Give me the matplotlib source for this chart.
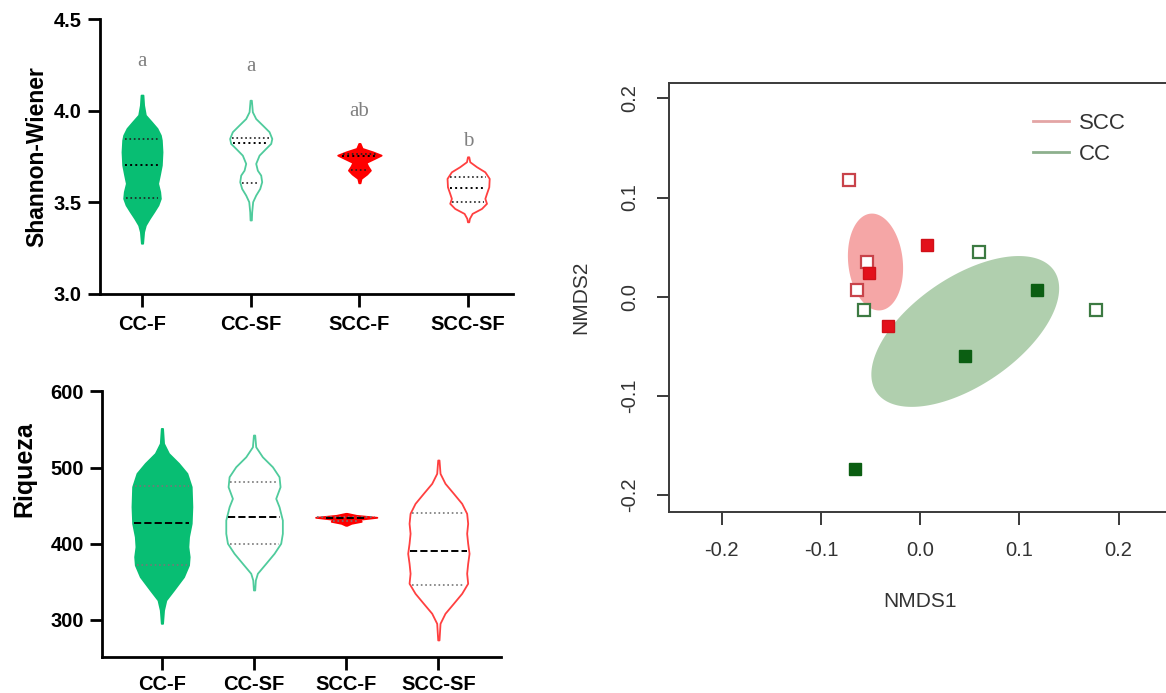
import numpy as np
import matplotlib
matplotlib.use("Agg")
import matplotlib.pyplot as plt
from matplotlib.lines import Line2D

plt.rcParams['font.family'] = ['Liberation Sans', 'DejaVu Sans']

groups = ['CC-F', 'CC-SF', 'SCC-F', 'SCC-SF']

# ---- Shannon-Wiener violins: level (top -> bottom) and half width (category units)
sh_levels = [
    [4.086, 4.031, 3.977, 3.940, 3.904, 3.867, 3.840, 3.776, 3.704, 3.649,
     3.604, 3.558, 3.522, 3.486, 3.449, 3.413, 3.376, 3.340, 3.277],
    [4.058, 3.995, 3.958, 3.922, 3.886, 3.849, 3.822, 3.795, 3.758, 3.713,
     3.676, 3.649, 3.613, 3.576, 3.540, 3.504, 3.449, 3.404],
    [3.822, 3.795, 3.776, 3.758, 3.740, 3.718, 3.698, 3.676, 3.655, 3.631, 3.607],
    [3.749, 3.722, 3.695, 3.667, 3.631, 3.585, 3.549, 3.522, 3.495, 3.467,
     3.440, 3.413, 3.394],
]
sh_width = [
    [0.009, 0.015, 0.031, 0.086, 0.138, 0.169, 0.178, 0.184, 0.178, 0.160,
     0.144, 0.163, 0.169, 0.147, 0.108, 0.068, 0.031, 0.015, 0.006],
    [0.006, 0.015, 0.046, 0.108, 0.169, 0.194, 0.184, 0.138, 0.077, 0.046,
     0.061, 0.092, 0.101, 0.083, 0.046, 0.018, 0.009, 0.006],
    [0.006, 0.025, 0.123, 0.200, 0.138, 0.061, 0.077, 0.101, 0.068, 0.015, 0.006],
    [0.006, 0.015, 0.077, 0.154, 0.194, 0.190, 0.169, 0.154, 0.169, 0.123,
     0.037, 0.012, 0.006],
]
sh_q3 = [3.844, 3.853, 3.765, 3.640]
sh_median = [3.704, 3.826, 3.752, 3.580]
sh_q1 = [3.522, 3.604, 3.676, 3.504]
sh_letters = ['a', 'a', 'ab', 'b']
sh_letter_y = [4.246, 4.218, 3.971, 3.807]

# ---- Riqueza violins
rq_levels = [
    [551.5, 531.8, 518.7, 505.6, 492.5, 475.0, 448.8, 426.9, 409.3, 396.2,
     383.1, 372.2, 356.8, 339.4, 326.2, 313.1, 295.6],
    [542.8, 527.4, 514.3, 501.2, 488.1, 475.0, 459.7, 448.7, 431.2, 413.8,
     400.7, 387.5, 374.4, 361.3, 352.5, 339.4],
    [440.0, 437.4, 434.8, 432.2, 429.5, 426.9, 424.3],
    [510.0, 492.5, 479.4, 466.3, 453.1, 440.0, 426.9, 413.8, 400.7, 387.5,
     374.4, 361.3, 348.2, 335.0, 321.9, 308.8, 295.6, 273.8],
]
rq_width = [
    [0.007, 0.018, 0.072, 0.181, 0.271, 0.318, 0.325, 0.318, 0.289, 0.282,
     0.296, 0.289, 0.235, 0.127, 0.043, 0.018, 0.007],
    [0.007, 0.018, 0.090, 0.199, 0.271, 0.282, 0.235, 0.271, 0.307, 0.307,
     0.289, 0.217, 0.127, 0.036, 0.014, 0.007],
    [0.007, 0.108, 0.333, 0.145, 0.163, 0.054, 0.007],
    [0.007, 0.018, 0.072, 0.163, 0.253, 0.307, 0.318, 0.307, 0.318, 0.333,
     0.318, 0.307, 0.318, 0.253, 0.163, 0.072, 0.018, 0.007],
]
rq_q3 = [475.7, 481.5, 434.8, 440.0]
rq_median = [427.6, 435.8, 433.5, 390.6]
rq_q1 = [372.2, 400.0, 429.5, 345.3]

fills = ['#08be73', 'white', '#ff0000', 'white']
edges = ['#08be73', '#4fcb9c', '#ff0000', '#ff4040']

# ---- NMDS scores
scc_open_x = [-0.072, -0.054, -0.064]
scc_open_y = [0.118, 0.035, 0.007]
scc_fill_x = [-0.052, 0.007, -0.032]
scc_fill_y = [0.024, 0.052, -0.029]
cc_open_x = [-0.057, 0.059, 0.177]
cc_open_y = [-0.013, 0.045, -0.013]
cc_fill_x = [0.118, 0.045, -0.066]
cc_fill_y = [0.007, -0.060, -0.174]
# ellipses: centre x, centre y, full major, full minor, angle (deg)
ell_scc = [-0.045, 0.035, 0.098, 0.055, 96.0]
ell_cc = [0.0455, -0.035, 0.217, 0.109, 34.4]


def violin(ax, x, levels, hw, fc, ec, q3, med, q1, med_style, q_style, q_col):
    lv = np.array(levels)
    w = np.array(hw)
    ax.fill_betweenx(lv, x - w, x + w, facecolor=fc, edgecolor=ec,
                     linewidth=1.3, zorder=2)
    for val, ls, col, lw in [(q3, q_style, q_col, 1.2), (med, med_style, 'black', 1.4),
                             (q1, q_style, q_col, 1.2)]:
        half = np.interp(val, lv[::-1], w[::-1]) - 0.02
        ax.plot([x - half, x + half], [val, val], linestyle=ls, color=col,
                linewidth=lw, zorder=3)


def style_left(ax):
    ax.spines['top'].set_visible(False)
    ax.spines['right'].set_visible(False)
    for s in ['left', 'bottom']:
        ax.spines[s].set_linewidth(2.0)
    ax.tick_params(width=2.0, length=9, labelsize=14.5, pad=4)
    for lab in ax.get_xticklabels() + ax.get_yticklabels():
        lab.set_fontweight('bold')


fig = plt.figure(figsize=(11.66, 6.93), dpi=100)

# ===== Shannon-Wiener =====
ax1 = fig.add_axes([0.0858, 0.5758, 0.3539, 0.3964])
for i in range(4):
    violin(ax1, i, sh_levels[i], sh_width[i], fills[i], edges[i],
           sh_q3[i], sh_median[i], sh_q1[i], ':', ':', '#222222')
    ax1.text(i, sh_letter_y[i], sh_letters[i], ha='center', va='baseline',
             fontsize=15, color='#808080', family='Liberation Serif')
ax1.set_xlim(-0.386, 3.41)
ax1.set_ylim(3.0, 4.5)
ax1.set_yticks([3.0, 3.5, 4.0, 4.5])
ax1.set_yticklabels(['3.0', '3.5', '4.0', '4.5'])
ax1.set_xticks(range(4))
ax1.set_xticklabels(groups)
style_left(ax1)
ax1.tick_params(axis='x', pad=6)
ax1.set_ylabel('Shannon-Wiener', fontsize=16.5, fontweight='bold')
ax1.yaxis.set_label_coords(-0.126, 0.5)

# ===== Riqueza =====
ax2 = fig.add_axes([0.0875, 0.0515, 0.3422, 0.3836])
for i in range(4):
    violin(ax2, i, rq_levels[i], rq_width[i], fills[i], edges[i],
           rq_q3[i], rq_median[i], rq_q1[i], '--', ':', '#777777')
ax2.set_xlim(-0.65, 3.68)
ax2.set_ylim(251, 600)
ax2.set_yticks([300, 400, 500, 600])
ax2.set_xticks(range(4))
ax2.set_xticklabels(groups)
style_left(ax2)
ax2.set_ylabel('Riqueza', fontsize=18, fontweight='bold')
ax2.yaxis.set_label_coords(-0.164, 0.708)

# ===== NMDS =====
ax3 = fig.add_axes([0.5734, 0.2616, 0.4318, 0.6190])


def ellipse_pts(p):
    t = np.linspace(0, 2 * np.pi, 200)
    a, b, th = p[2] / 2, p[3] / 2, np.deg2rad(p[4])
    ex = p[0] + a * np.cos(t) * np.cos(th) - b * np.sin(t) * np.sin(th)
    ey = p[1] + a * np.cos(t) * np.sin(th) + b * np.sin(t) * np.cos(th)
    return ex, ey


ex, ey = ellipse_pts(ell_scc)
ax3.fill(ex, ey, color='#f5a6a6', lw=0, zorder=1)
ex, ey = ellipse_pts(ell_cc)
ax3.fill(ex, ey, color='#b0cfae', lw=0, zorder=1)

ax3.plot(scc_open_x, scc_open_y, 's', ms=8.5, mfc='white', mec='#c8434a', mew=1.6, zorder=3)
ax3.plot(scc_fill_x, scc_fill_y, 's', ms=8.5, mfc='#e3101b', mec='#d01018', mew=1.0, zorder=3)
ax3.plot(cc_open_x, cc_open_y, 's', ms=8.5, mfc='white', mec='#3c7a42', mew=1.6, zorder=3)
ax3.plot(cc_fill_x, cc_fill_y, 's', ms=8.5, mfc='#0b5e12', mec='#0b5e12', mew=1.0, zorder=3)

ax3.set_xlim(-0.2536, 0.254)
ax3.set_ylim(-0.2167, 0.2157)
ax3.set_xticks([-0.2, -0.1, 0.0, 0.1, 0.2])
ax3.set_xticklabels(['-0.2', '-0.1', '0.0', '0.1', '0.2'])
ax3.set_yticks([-0.2, -0.1, 0.0, 0.1, 0.2])
ax3.set_yticklabels(['-0.2', '-0.1', '0.0', '0.1', '0.2'], rotation=90, va='center')
for s in ax3.spines.values():
    s.set_linewidth(1.4)
    s.set_color('#3a3a3a')
ax3.tick_params(length=9, width=1.4, color='#3a3a3a', labelsize=14.5,
                labelcolor='#333333', pad=12)
ax3.set_xlabel('NMDS1', fontsize=15, color='#333333', labelpad=23)
ax3.set_ylabel('NMDS2', fontsize=15, color='#333333', labelpad=22)

handles = [Line2D([], [], color='#e3a5a5', lw=2), Line2D([], [], color='#8db08d', lw=2)]
leg = ax3.legend(handles, ['SCC', 'CC'], frameon=False, fontsize=16, loc='upper left',
                 bbox_to_anchor=(1033 / 1166, 1 - 113 / 693), bbox_transform=fig.transFigure,
                 borderpad=0, borderaxespad=0, handlelength=1.6, handletextpad=0.45,
                 labelspacing=0.45)
for t in leg.get_texts():
    t.set_color('#333333')

fig.savefig('out.png', dpi=100)
